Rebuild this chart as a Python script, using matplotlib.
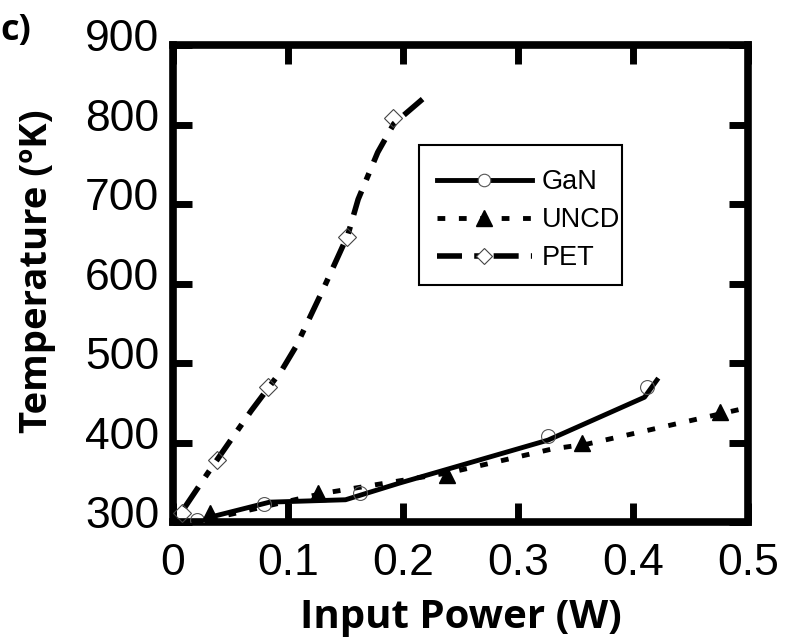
import numpy as np
import matplotlib.pyplot as plt
from matplotlib.patches import Rectangle
from matplotlib.transforms import ScaledTranslation

# measured points (markers)
gan_x = [0.021, 0.079, 0.163, 0.326, 0.412]
gan_y = [303, 323, 337, 408, 470]
uncd_x = [0.032, 0.126, 0.238, 0.356, 0.476]
uncd_y = [311, 337, 359, 399, 438]
pet_x = [0.008, 0.038, 0.083, 0.151, 0.191]
pet_y = [311, 378, 470, 658, 808]

# fitted / trend lines
gan_line_x = [0.032, 0.084, 0.150, 0.197, 0.326, 0.410, 0.422]
gan_line_y = [306, 325, 328, 349, 403, 457, 481]
uncd_line_x = [0.030, 0.130, 0.240, 0.330, 0.360, 0.500]
uncd_line_y = [303, 336, 362, 392, 398, 444]
pet_line_x = [0.010, 0.030, 0.068, 0.095, 0.107, 0.130, 0.152, 0.161, 0.178, 0.192, 0.217]
pet_line_y = [318, 361, 440, 492, 521, 591, 661, 706, 765, 801, 832]

xticks = [0, 0.1, 0.2, 0.3, 0.4, 0.5]
xticklabels = ['0', '0.1', '0.2', '0.3', '0.4', '0.5']
yticks = [300, 400, 500, 600, 700, 800, 900]

plt.rcParams['font.family'] = ['Liberation Sans', 'DejaVu Sans']

fig = plt.figure(figsize=(7.85, 6.37), dpi=100)
ax = fig.add_axes([0.2204, 0.1805, 0.7325, 0.7488])

dots = (0, (1.6, 2.8))
dashdot = (0, (4.5, 2.2, 1.3, 2.2))

ax.plot(gan_line_x, gan_line_y, color='black', lw=3.5, ls='-', solid_capstyle='butt', zorder=3)
ax.plot(uncd_line_x, uncd_line_y, color='black', lw=3.5, ls=dots, zorder=3)
ax.plot(pet_line_x, pet_line_y, color='black', lw=4, ls=dashdot, zorder=3)

ax.plot(gan_x, gan_y, ls='none', marker='o', ms=10, mfc='none', mec='#555555', mew=0.8, zorder=4)
ax.plot(uncd_x, uncd_y, ls='none', marker='^', ms=11, mfc='black', mec='black', zorder=4)
ax.plot(pet_x, pet_y, ls='none', marker='D', ms=9, mfc='none', mec='#444444', mew=0.8, zorder=4)

# legend handles: line + marker, frame drawn separately
h1, = ax.plot([], [], color='black', lw=3.5, ls='-', marker='o', ms=9, mfc='white', mec='#555555', mew=0.8)
h2, = ax.plot([], [], color='black', lw=3.5, ls=dots, marker='^', ms=11, mfc='black', mec='black')
h3, = ax.plot([], [], color='black', lw=4, ls=dashdot, marker='D', ms=8, mfc='white', mec='#444444', mew=0.8)
ax.legend([h1, h2, h3], ['GaN', 'UNCD', 'PET'], loc='upper left',
          bbox_to_anchor=(0.459, 0.740), fontsize=19.5, frameon=False,
          handlelength=3.5, handletextpad=0.36, labelspacing=0.45,
          borderpad=0, borderaxespad=0)
ax.add_patch(Rectangle((0.428, 0.497), 0.353, 0.2935, transform=ax.transAxes,
                       fill=False, edgecolor='black', lw=1.5, zorder=5))

ax.set_xlim(0, 0.5)
ax.set_ylim(300, 900)
ax.set_xticks(xticks)
ax.set_xticklabels(xticklabels)
ax.set_yticks(yticks)
ax.tick_params(direction='in', length=14, width=5, top=True, right=True,
               labelsize=32, pad=10)
ax.tick_params(axis='x', pad=15)
for s in ax.spines.values():
    s.set_linewidth(5.5)

# tick labels on the y axis sit a little above their ticks
shift = ScaledTranslation(0, 10 / 100, fig.dpi_scale_trans)
for lab in ax.get_yticklabels():
    lab.set_transform(lab.get_transform() + shift)

ax.set_xlabel('Input Power (W)', fontsize=29, fontweight='bold', family='Open Sans', labelpad=10)
ax.set_ylabel('Temperature (ºK)', fontsize=27.5, fontweight='bold', family='Open Sans')
ax.yaxis.set_label_coords(-0.203, 0.526)
fig.text(0.0, 0.952, 'c)', fontsize=26, fontweight='bold', family='Open Sans', ha='left', va='center')

fig.savefig('out.png', dpi=100)
